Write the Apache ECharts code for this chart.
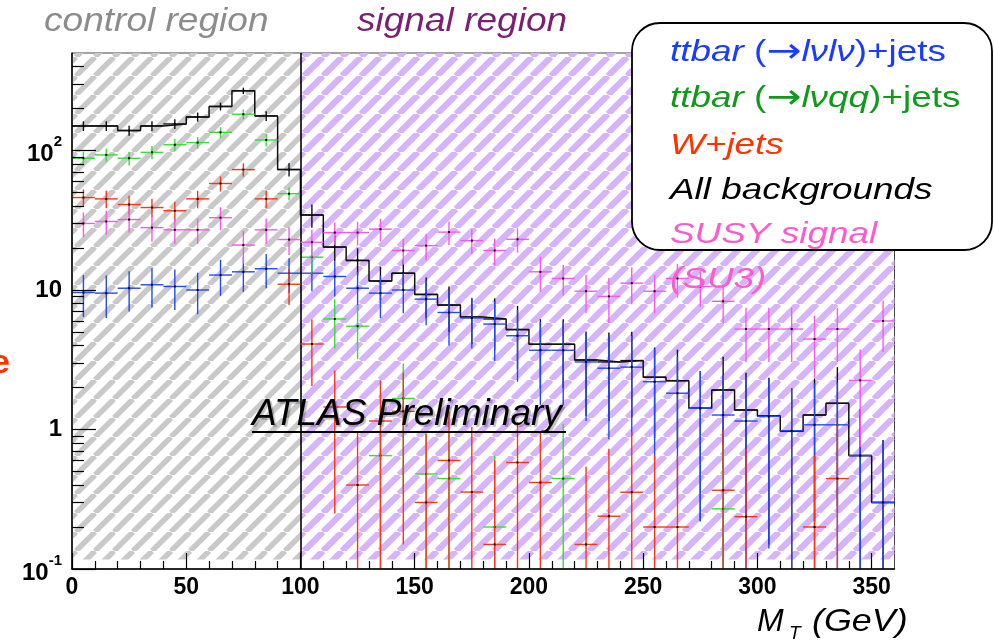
<!DOCTYPE html>
<html><head><meta charset="utf-8">
<script src="https://cdn.jsdelivr.net/npm/echarts@6/dist/echarts.min.js"></script>
<style>html,body{margin:0;padding:0;background:#fff}#c{width:994px;height:643px}</style>
</head><body><div id="c"></div>
<script>
// ---------------- data ----------------
const BIN_WIDTH = 10;
const binCenters = [5,15,25,35,45,55,65,75,85,95,105,115,125,135,145,155,165,175,185,195,205,215,225,235,245,255,265,275,285,295,305,315,325,335,345,355];
const xTickValues = [0,50,100,150,200,250,300,350];
const yMajorTicks = [0.1,1,10,100];
const yMinorTicks = [0.2,0.3,0.4,0.5,0.6,0.7,0.8,0.9,2,3,4,5,6,7,8,9,20,30,40,50,60,70,80,90,200,300,400];
const xMinorTicks = [10,20,30,40,60,70,80,90,110,120,130,140,160,170,180,190,210,220,230,240,260,270,280,290,310,320,330,340];
const regionBounds = [0,100,360];

// All backgrounds
const allBkg    = [150,150,139,150,155,174,207,268,177,73,34.5,20.3,16.3,11.6,13.2,9.3,7.8,6.4,6.2,5.2,4.08,4.08,3.15,3.05,3.12,2.37,2.24,1.42,1.92,1.38,1.25,0.97,1.27,1.54,0.65,0.30];
const allBkgErr = [12,12,11.5,12,12.5,13,13.5,14,14,8,6.5,4.3,3.6,3.1,3.3,3.0,2.8,2.3,2.5,2.5,2.1,2.1,1.9,1.9,1.9,1.5,1.5,1.2,1.4,1.17,1.1,1.0,1.05,1.26,0.75,0.54];
// ttbar (-> l nu l nu) + jets
const ttDilep    = [9.6,9.5,10.3,10.9,10.6,10.0,12.8,13.5,14.2,13.2,13.2,12.5,10.3,9.5,10.0,8.6,6.9,6.3,5.7,4.7,3.7,3.7,3.05,2.75,2.8,2.2,1.82,1.42,1.27,1.15,1.24,0.98,1.08,1.08,0.65,0.30];
const ttDilepErr = [3.2,3.2,3.3,3.4,3.4,3.3,3.7,3.8,3.9,3.7,3.4,3.5,3.2,3.2,3.2,3.0,2.9,2.5,2.6,2.5,2.2,2.2,1.9,1.9,1.9,1.6,1.5,1.2,1.2,1.2,1.1,1.0,1.06,1.1,0.75,0.54];
// ttbar (-> l nu q q) + jets
const ttSemi    = [88,93,88,97,110,114,135,182,119,49,17.2,6.2,5.5,0.65,1.67,0.48,0.445,null,0.2,null,null,0.445,null,null,null,null,null,null,0.27,null,null,null,null,null,null,null];
const ttSemiErr = [10,10,10,10.5,11,11,12,15,12,5,4.2,2.4,2.3,0.65,1.3,0.5,0.5,null,0.45,null,null,0.65,null,null,null,null,null,null,0.5,null,null,null,null,null,null,null];
// W + jets
const wJets    = [46,45,41,39,37,45,58,73,45,11,4.1,1.45,0.4,1.15,1.35,0.30,0.6,0.356,0.15,0.58,0.417,null,0.15,0.239,0.355,0.2,0.2,null,0.367,0.237,null,null,0.2,0.445,null,null];
const wJetsErr = [6.6,6.5,6.3,6.1,6.0,6.5,7.2,8,6.5,3.2,2.05,1.2,0.55,1.1,1.2,0.63,0.75,0.69,0.45,0.55,0.55,null,0.39,0.49,0.6,0.45,0.45,null,0.62,0.49,null,null,0.45,0.65,null,null];
// SUSY signal (SU3)
const susy    = [30,31,32,28,27,27,33,21,27,23,22,25.8,25.8,27.3,19.2,20.8,26,22.6,19.2,23.1,13.5,12.1,9.8,9.0,11.2,9.8,12.1,10.6,8.3,5.25,5.25,5.25,4.45,5.25,2.25,6.0];
const susyErr = [6,6,6.2,5.8,5.6,5.6,6.2,5.5,5.6,5.2,5,4.7,5,5,4,4.5,5,4.5,4.2,4.6,3.8,3,3,3.2,3.3,3,3.3,3,2.6,2.2,2.2,2.2,2.1,2.2,1.5,2.4];

// ---------------- helpers ----------------
const FONT = 'Liberation Sans';
function hatch(color, period, width) {
  const c = document.createElement('canvas');
  c.width = period; c.height = period;
  const g = c.getContext('2d');
  g.strokeStyle = color; g.lineWidth = width;
  g.beginPath();
  for (let k = -1; k <= 1; k++) {
    g.moveTo(k * period, period);
    g.lineTo(k * period + period, 0);
  }
  g.stroke();
  return { image: c, repeat: 'repeat' };
}

function crossSeries(name, vals, errs, color, z) {
  const data = [];
  for (let i = 0; i < binCenters.length; i++) {
    if (vals[i] != null) data.push([binCenters[i], vals[i], errs[i]]);
  }
  return {
    type: 'custom', name, z, clip: true, data, encode: { x: 0, y: 1 },
    renderItem: function (params, api) {
      const x = api.value(0), v = api.value(1), e = api.value(2);
      const cs = params.coordSys;
      const bottom = cs.y + cs.height, top = cs.y;
      const l = api.coord([x - BIN_WIDTH / 2, v]);
      const r = api.coord([x + BIN_WIDTH / 2, v]);
      const c = api.coord([x, v]);
      let hi = api.coord([x, v + e])[1];
      const loV = v - e;
      let lo = loV > 0 ? api.coord([x, loV])[1] : bottom;
      if (!(lo <= bottom)) lo = bottom;
      if (hi < top) hi = top;
      return {
        type: 'group', children: [
          { type: 'line', shape: { x1: l[0], y1: l[1], x2: r[0], y2: r[1] }, style: { stroke: color, lineWidth: 1.4 } },
          { type: 'line', shape: { x1: c[0], y1: hi, x2: c[0], y2: lo }, style: { stroke: color, lineWidth: 1.4 } },
          { type: 'rect', shape: { x: c[0] - 1, y: c[1] - 1, width: 2, height: 2 }, style: { fill: '#000' } }
        ]
      };
    }
  };
}

// step line points from bin edges
const stepData = binCenters.map((c, i) => [c - BIN_WIDTH / 2, allBkg[i]]);
stepData.push([binCenters[binCenters.length - 1] + BIN_WIDTH / 2, allBkg[allBkg.length - 1]]);

const yLabelMap = { '0.1': '{b|10}{s|-1}', '1': '1', '10': '10', '100': '{b|10}{s|2}' };

const chart = echarts.init(document.getElementById('c'), null, { renderer: 'canvas' });
const GRID = { left: 72, top: 53, width: 822.5, height: 516 };
const tickStyle = { color: '#000', width: 1.2 };

chart.setOption({
  animation: false,
  backgroundColor: '#fff',
  grid: [
    Object.assign({ show: true, borderColor: '#444', borderWidth: 1, backgroundColor: 'transparent', containLabel: false }, GRID),
    Object.assign({ show: false, containLabel: false }, GRID)
  ],
  xAxis: [{
    type: 'value', gridIndex: 0, min: 0, max: 360, position: 'bottom', z: 10,
    axisLine: { show: true, onZero: false, lineStyle: { color: '#000', width: 1.5 } },
    axisTick: { show: true, inside: true, length: 16, customValues: xTickValues, lineStyle: tickStyle },
    axisLabel: { customValues: xTickValues, margin: 7, color: '#000', fontFamily: FONT, fontWeight: 'bold', fontSize: 23 },
    splitLine: { show: false }
  }, {
    type: 'value', gridIndex: 1, min: 0, max: 360, position: 'bottom', z: 10,
    axisLine: { show: false },
    axisTick: { show: true, inside: true, length: 8, customValues: xMinorTicks, lineStyle: tickStyle },
    axisLabel: { show: false }, splitLine: { show: false }
  }],
  yAxis: [{
    type: 'log', gridIndex: 0, logBase: 10, min: 0.1, max: 500, position: 'left', z: 10,
    axisLine: { show: true, onZero: false, lineStyle: { color: '#000', width: 1.5 } },
    axisTick: { show: true, inside: true, length: 24, customValues: yMajorTicks, lineStyle: tickStyle },
    axisLabel: {
      customValues: yMajorTicks, margin: 10, color: '#000',
      fontFamily: FONT, fontWeight: 'bold', fontSize: 24,
      formatter: v => yLabelMap[String(+v.toPrecision(3))] || '',
      rich: {
        b: { fontFamily: FONT, fontWeight: 'bold', fontSize: 24, color: '#000', verticalAlign: 'bottom', lineHeight: 32 },
        s: { fontFamily: FONT, fontWeight: 'bold', fontSize: 15, color: '#000', verticalAlign: 'top', lineHeight: 16 }
      }
    },
    splitLine: { show: false }
  }, {
    type: 'log', gridIndex: 1, logBase: 10, min: 0.1, max: 500, position: 'left', z: 10,
    axisLine: { show: false },
    axisTick: { show: true, inside: true, length: 12, customValues: yMinorTicks, lineStyle: tickStyle },
    axisLabel: { show: false }, splitLine: { show: false }
  }],
  series: [
    {
      type: 'line', name: 'All backgrounds step', step: 'end', data: stepData, z: 3,
      showSymbol: false, symbol: 'none', lineStyle: { color: '#111', width: 1.5 },
      markArea: {
        silent: true, z: 1,
        data: [
          [{ xAxis: regionBounds[0], yAxis: 0.117, itemStyle: { color: hatch('#c9c9c9', 19, 5.5) } }, { xAxis: regionBounds[1], yAxis: 500 }],
          [{ xAxis: regionBounds[1], yAxis: 0.117, itemStyle: { color: hatch('#d6b4fb', 19, 6.3) } }, { xAxis: regionBounds[2], yAxis: 500 }]
        ]
      },
      markLine: {
        silent: true, symbol: ['none', 'none'], label: { show: false }, z: 6,
        lineStyle: { color: '#000', width: 1.6, type: 'solid' },
        data: [{ xAxis: regionBounds[1] }]
      }
    },
    crossSeries('All backgrounds', allBkg, allBkgErr, '#111111', 3),
    crossSeries('ttbar dilepton', ttDilep, ttDilepErr, '#2248ff', 4),
    crossSeries('ttbar semileptonic', ttSemi, ttSemiErr, '#33e033', 5),
    crossSeries('W+jets', wJets, wJetsErr, '#ff3414', 6),
    crossSeries('SUSY', susy, susyErr, '#ff55ee', 7)
  ],
  graphic: [
    { type: 'text', x: 44, y: 22, scaleX: 1.09, z: 100, style: { text: 'control region', fill: '#8c8c8c', fontFamily: FONT, fontStyle: 'italic', fontSize: 34, verticalAlign: 'middle' } },
    { type: 'text', x: 357, y: 22, scaleX: 1.09, z: 100, style: { text: 'signal region', fill: '#7a1f72', fontFamily: FONT, fontStyle: 'italic', fontSize: 34, verticalAlign: 'middle' } },
    { type: 'rect', z: 100, shape: { x: 632, y: 23, width: 360, height: 227, r: 28 }, style: { fill: '#fff', stroke: '#000', lineWidth: 1.8 } },
    { type: 'text', x: 670, y: 53, scaleX: 1.23, z: 101, style: { text: '{i|ttbar} ({a|→}{i|lνlν})+jets', fill: '#1a3cff', fontFamily: FONT, fontSize: 30, verticalAlign: 'middle', rich: { i: { fontStyle: 'italic', fontFamily: FONT, fontSize: 30, fill: '#1a3cff' }, a: { fontFamily: 'DejaVu Sans', fontSize: 34, fill: '#1a3cff' } } } },
    { type: 'text', x: 670, y: 99, scaleX: 1.23, z: 101, style: { text: '{i|ttbar} ({a|→}{i|lνqq})+jets', fill: '#119a1a', fontFamily: FONT, fontSize: 30, verticalAlign: 'middle', rich: { i: { fontStyle: 'italic', fontFamily: FONT, fontSize: 30, fill: '#119a1a' }, a: { fontFamily: 'DejaVu Sans', fontSize: 34, fill: '#119a1a' } } } },
    { type: 'text', x: 670, y: 145.5, scaleX: 1.23, z: 101, style: { text: 'W+jets', fill: '#ff3300', fontFamily: FONT, fontStyle: 'italic', fontSize: 30, verticalAlign: 'middle' } },
    { type: 'text', x: 670, y: 191, scaleX: 1.23, z: 101, style: { text: 'All backgrounds', fill: '#000', fontFamily: FONT, fontStyle: 'italic', fontSize: 30, verticalAlign: 'middle' } },
    { type: 'text', x: 670, y: 235, scaleX: 1.23, z: 101, style: { text: 'SUSY signal', fill: '#ff5acd', fontFamily: FONT, fontStyle: 'italic', fontSize: 30, verticalAlign: 'middle' } },
    { type: 'text', x: 670, y: 280, scaleX: 1.23, z: 101, style: { text: '(SU3)', fill: '#ff5acd', fontFamily: FONT, fontStyle: 'italic', fontSize: 30, verticalAlign: 'middle' } },
    { type: 'text', x: 252, y: 415, z: 100, style: { text: 'ATLAS Preliminary', fill: '#000', fontFamily: FONT, fontStyle: 'italic', fontSize: 37, verticalAlign: 'middle', textShadowColor: 'rgba(0,0,0,0.25)', textShadowOffsetX: 2, textShadowOffsetY: 2, textShadowBlur: 1 } },
    { type: 'line', z: 100, shape: { x1: 252, y1: 432, x2: 566, y2: 432 }, style: { stroke: '#000', lineWidth: 2 } },
    { type: 'text', x: 757, y: 622, z: 100, style: { text: 'M', fill: '#000', fontFamily: FONT, fontStyle: 'italic', fontSize: 32, verticalAlign: 'middle' } },
    { type: 'text', x: 789, y: 634, z: 100, style: { text: 'T', fill: '#000', fontFamily: FONT, fontStyle: 'italic', fontSize: 19, verticalAlign: 'middle' } },
    { type: 'text', x: 812, y: 622, scaleX: 1.12, z: 100, style: { text: '(GeV)', fill: '#000', fontFamily: FONT, fontStyle: 'italic', fontSize: 32, verticalAlign: 'middle' } },
    { type: 'text', x: -9, y: 364, z: 100, style: { text: 'e', fill: '#ff3300', fontFamily: FONT, fontWeight: 'bold', fontSize: 34, verticalAlign: 'middle' } }
  ]
});
</script>
</body></html>
